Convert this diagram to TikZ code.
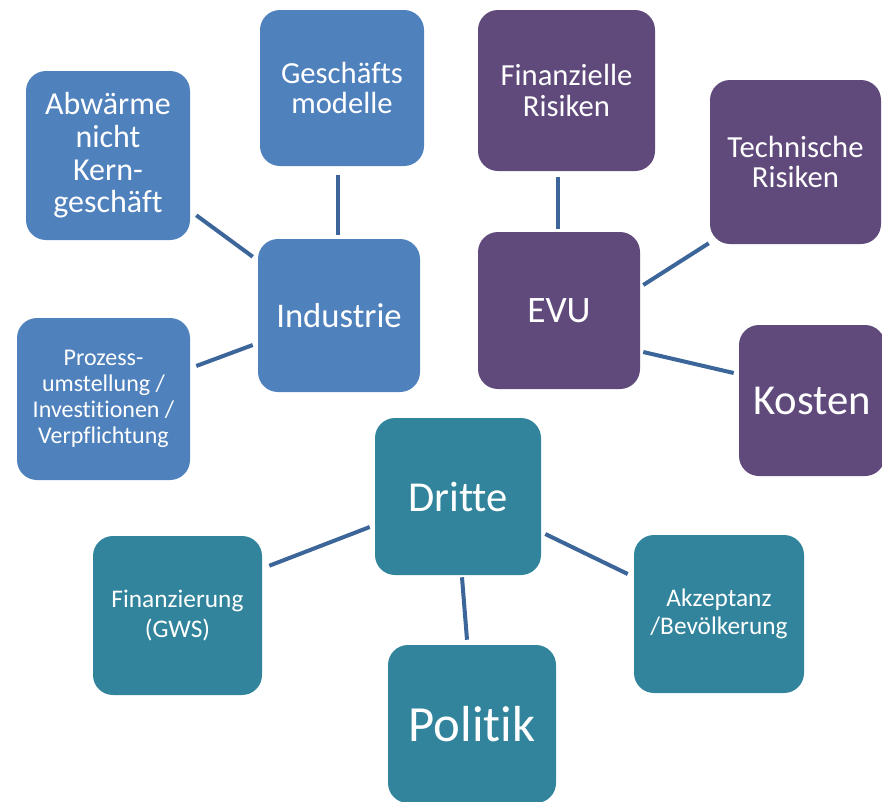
\documentclass[tikz,border=0pt]{standalone}
\usepackage{fontspec}
\setmainfont{Carlito}[Ligatures=NoCommon,RawFeature={-liga;-calt;-clig}]
\definecolor{cblue}{HTML}{4F81BD}
\definecolor{cpurple}{HTML}{604A7B}
\definecolor{cteal}{HTML}{31849B}
\definecolor{cline}{HTML}{3C669A}
\begin{document}
\begin{tikzpicture}[x=0.75pt,y=-0.75pt,
  bx/.style 2 args={rectangle, rounded corners=15pt, inner sep=0pt, align=center, text=white,
     minimum width=#1*0.75pt, minimum height=#2*0.75pt},
  bluebox/.style={bx={#1}, fill=cblue},
  purplebox/.style={bx={#1}, fill=cpurple},
  tealbox/.style={bx={#1}, fill=cteal},
  conn/.style={draw=cline, line width=3pt}]
\useasboundingbox (0,0) rectangle (882,801);
\clip (0,0) rectangle (882,801);
% Industrie group
\node[bluebox={164}{156}, font=\fontsize{23}{23}\selectfont] (ges) at (342,88) {Geschäfts\\modelle};
\node[bluebox={164}{169}, font=\fontsize{24}{24.5}\selectfont] (abw) at (108,155.5) {Abwärme\\nicht\\Kern-\\geschäft};
\node[bluebox={162}{153}, font=\fontsize{26}{27}\selectfont] (ind) at (339,315.5) {Industrie};
\node[bluebox={173}{162}, font=\fontsize{18}{19.5}\selectfont] (pro) at (103.5,399) {Prozess-\\umstellung /\\Investitionen /\\Verpflichtung};
% EVU group
\node[purplebox={177}{161}, font=\fontsize{23}{23}\selectfont] (fin) at (566.5,90.5) {Finanzielle\\Risiken};
\node[purplebox={171}{164}, font=\fontsize{23}{23}\selectfont] (tech) at (795.5,162) {Technische\\Risiken};
\node[purplebox={162}{157}, font=\fontsize{28}{29}\selectfont] (evu) at (559,310.5) {EVU};
\node[purplebox={146}{151}, font=\fontsize{32}{33}\selectfont] (kos) at (812,400.5) {Kosten};
% Dritte group
\node[tealbox={166}{157}, font=\fontsize{32}{33}\selectfont] (dri) at (458,496.5) {Dritte};
\node[tealbox={169}{159}, font=\fontsize{19}{23}\selectfont] (fnz) at (177.5,615.5) {Finanzierung\\(GWS)};
\node[tealbox={168}{158}, font=\fontsize{38}{39}\selectfont] (pol) at (472,724) {Politik};
\node[tealbox={170}{158}, font=\fontsize{19}{20.5}\selectfont] (akz) at (719,614) {Akzeptanz\\/Bevölkerung};
% connectors
\draw[conn] ([shift={(-4,9)}]ges.south) -- ([shift={(-1,-4)}]ind.north);
\draw[conn] ([shift={(6,-25)}]abw.south east) -- ([shift={(-5,18)}]ind.north west);
\draw[conn] ([shift={(6,-33)}]pro.east) -- ([shift={(-5,29.5)}]ind.west);
\draw[conn] ([shift={(-8.5,6)}]fin.south) -- ([shift={(-1,-3)}]evu.north);
\draw[conn] ([shift={(-1,-1)}]tech.south west) -- ([shift={(3,-25.5)}]evu.east);
\draw[conn] ([shift={(-5,-27.5)}]kos.west) -- ([shift={(3,41.5)}]evu.east);
\draw[conn] ([shift={(-5,30.5)}]dri.west) -- ([shift={(7,30)}]fnz.north east);
\draw[conn] ([shift={(4,2)}]dri.south) -- ([shift={(-5,-5)}]pol.north);
\draw[conn] ([shift={(4,37.5)}]dri.east) -- ([shift={(-6,-40)}]akz.west);
\end{tikzpicture}
\end{document}
